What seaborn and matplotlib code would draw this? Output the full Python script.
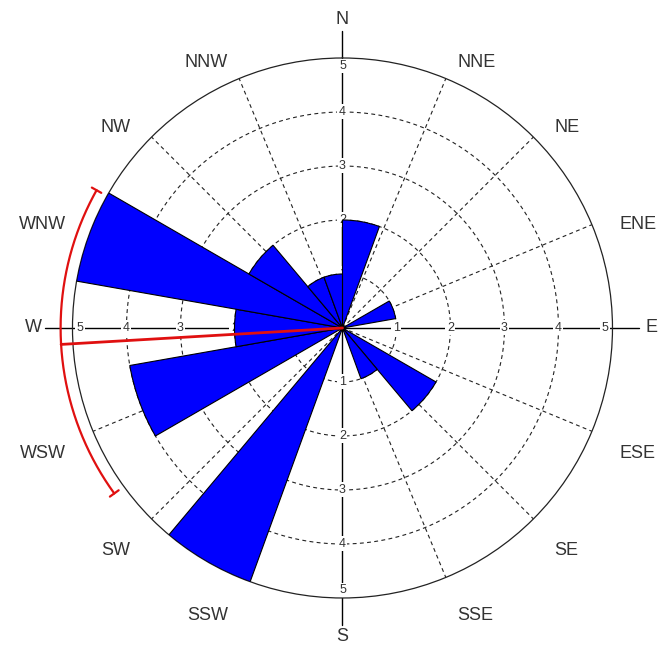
import numpy as np
import pandas as pd
import matplotlib
matplotlib.use("Agg")
import matplotlib.pyplot as plt
import seaborn as sns

# Direction histogram: 18 bins of 20 degrees, measured clockwise from north
bin_centers_deg = [10, 30, 50, 70, 90, 110, 130, 150, 170,
                   190, 210, 230, 250, 270, 290, 310, 330, 350]
counts = [2, 0, 0, 1, 0, 0, 2, 1, 0,
          0, 5, 0, 4, 2, 5, 2, 1, 1]

compass_labels = ["N", "NNE", "NE", "ENE", "E", "ESE", "SE", "SSE",
                  "S", "SSW", "SW", "WSW", "W", "WNW", "NW", "NNW"]
radial_ticks = [1, 2, 3, 4, 5]
ci_half_width_deg = 32.6

sns.set_style("white")
plt.rcParams["font.family"] = ["Liberation Sans", "DejaVu Sans"]

df = pd.DataFrame({"theta": np.deg2rad(bin_centers_deg), "count": counts})

# mean direction from the binned counts
th = df["theta"].to_numpy()
w = df["count"].to_numpy()
mean_dir = np.arctan2((w * np.sin(th)).sum(), (w * np.cos(th)).sum())

RMAX = 5
fig = plt.figure(figsize=(6.62, 6.5), dpi=100)
ax = fig.add_axes([0.1095, 0.08, 0.8157, 0.8308], projection="polar")
ax.set_theta_zero_location("N")
ax.set_theta_direction(-1)

sns.barplot(data=df, x="theta", y="count", native_scale=True, orient="x",
            width=1, color="#0000FF", saturation=1, edgecolor="black",
            linewidth=0.8, errorbar=None, zorder=3, ax=ax)

ax.set_thetalim(0, 2 * np.pi)
ax.set_ylim(0, RMAX)
ax.grid(False)
ax.set_xticks([])
ax.set_yticks([])
ax.set_xlabel("")
ax.set_ylabel("")
ax.spines["polar"].set(linewidth=0.9, color="#222222")

dash = (0, (3.5, 3))
full = np.linspace(0, 2 * np.pi, 721)
for r in radial_ticks[:-1]:
    ax.plot(full, np.full_like(full, r), ls=dash, color="#222222", lw=0.8, zorder=1)

for i in range(16):
    ang = np.deg2rad(i * 22.5)
    if i % 4 == 0:
        ax.plot([ang, ang], [0, 5.5], color="black", lw=1.0, zorder=1.2, clip_on=False)
    else:
        ax.plot([ang, ang], [0, RMAX], ls=dash, color="#222222", lw=0.8, zorder=1)

# radial tick labels along the four main axes
for i in range(4):
    ang = np.deg2rad(i * 90)
    for t in radial_ticks:
        r = t if t < RMAX else 4.86
        ax.text(ang, r, str(t), ha="center", va="center", fontsize=9,
                color="#333333", zorder=1.5,
                bbox=dict(boxstyle="square,pad=0.12", fc="white", ec="none"))

# compass labels: main directions centred, the others set beside their ray
for i, lab in enumerate(compass_labels):
    deg = i * 22.5
    ang = np.deg2rad(deg)
    if i % 4 == 0:
        ax.text(ang, 5.72, lab, ha="center", va="center", fontsize=13, color="#333333")
    else:
        ax.annotate(lab, xy=(ang, 5.55), xytext=(0, -11), textcoords="offset pixels",
                    ha="left" if deg < 180 else "right", va="center",
                    fontsize=13, color="#333333", annotation_clip=False)

# mean direction and its confidence arc
red = "#E01010"
R_CI = 5.22
ax.plot([mean_dir, mean_dir], [0, R_CI], color=red, lw=2.0, zorder=5, clip_on=False)
ci = np.deg2rad(ci_half_width_deg)
arc = np.linspace(mean_dir - ci, mean_dir + ci, 200)
ax.plot(arc, np.full_like(arc, R_CI), color=red, lw=1.6, zorder=5, clip_on=False)
for end in (mean_dir - ci, mean_dir + ci):
    ax.plot([end, end], [R_CI - 0.1, R_CI + 0.1], color=red, lw=1.6, zorder=5, clip_on=False)

fig.savefig("out.png", dpi=100, facecolor="white")
